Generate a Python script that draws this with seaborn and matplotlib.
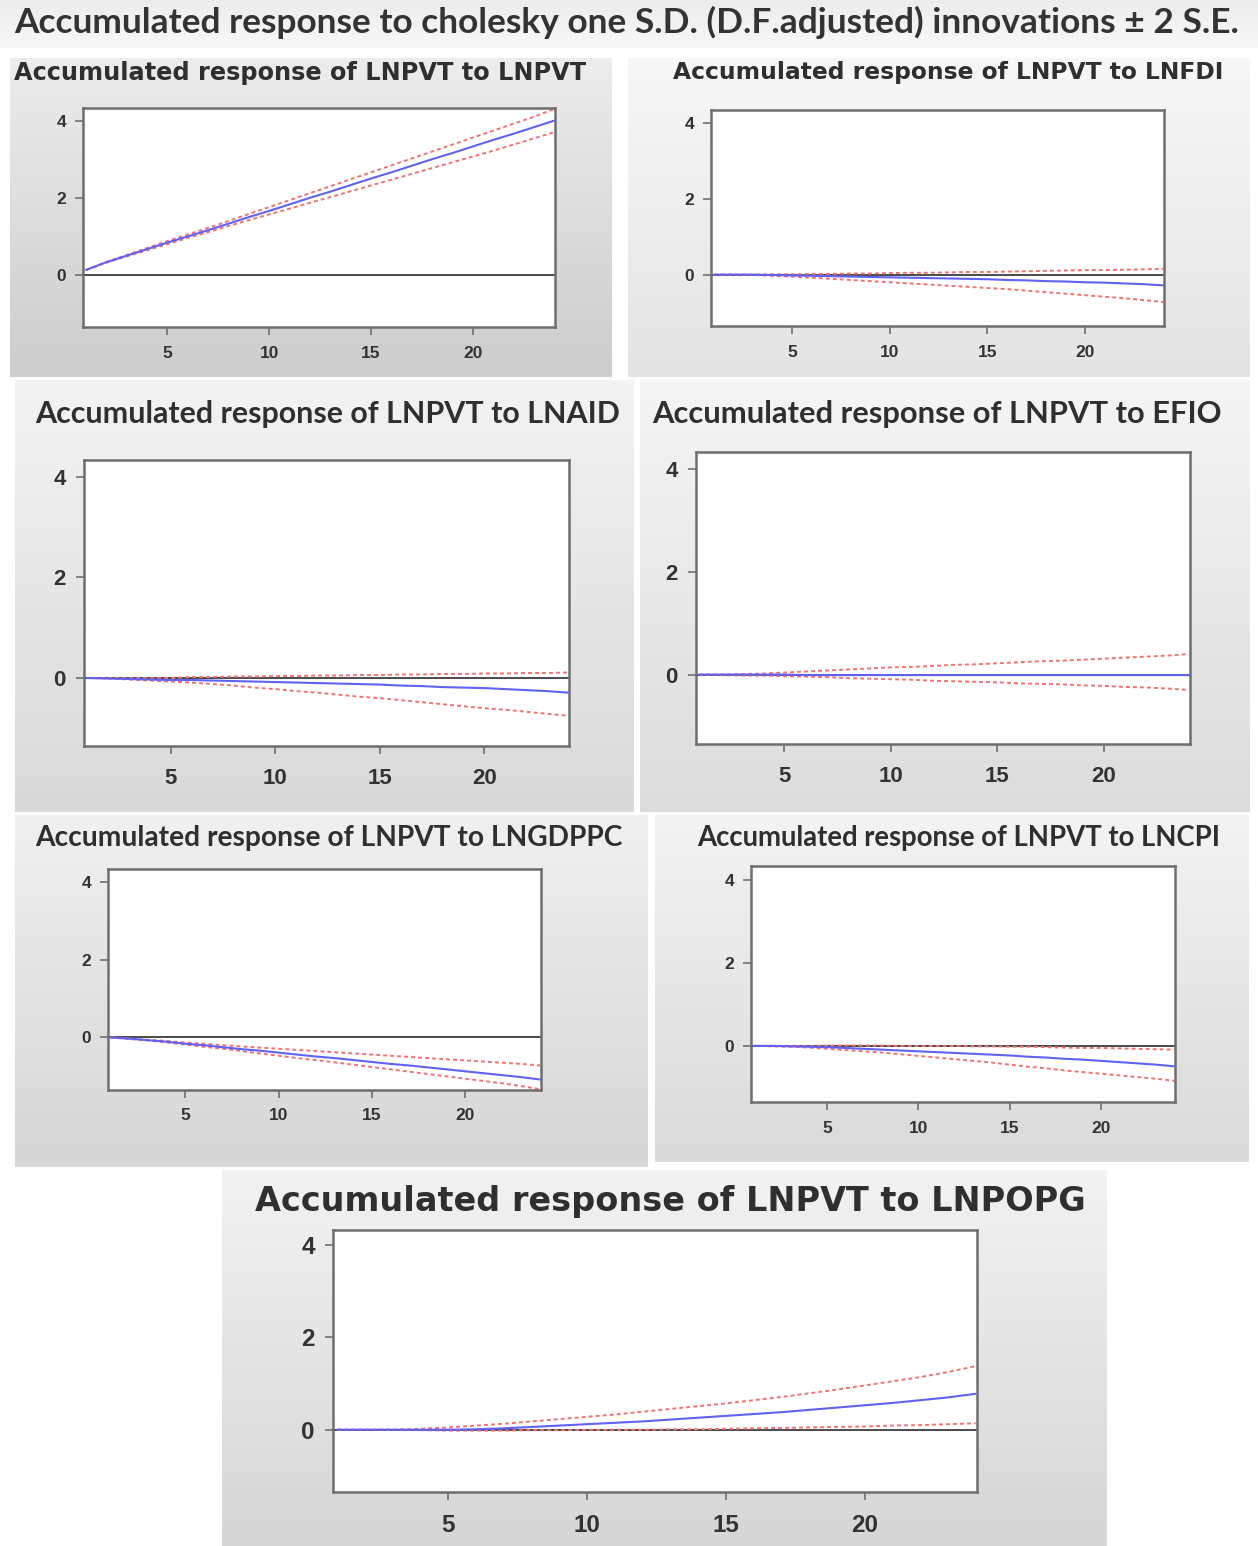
import numpy as np
import pandas as pd
import matplotlib
matplotlib.use("Agg")
import matplotlib.pyplot as plt
from matplotlib.colors import LinearSegmentedColormap
import seaborn as sns

sns.set_style("white")
plt.rcParams["font.family"] = ["DejaVu Sans"]

# ---------------- data ----------------
periods = list(range(1, 25))

main_title = "Accumulated response to cholesky one S.D. (D.F.adjusted) innovations \u00b1 2 S.E."

titles = [
    "Accumulated response of LNPVT to LNPVT",
    "Accumulated response of LNPVT to LNFDI",
    "Accumulated response of LNPVT to LNAID",
    "Accumulated response of LNPVT to EFIO",
    "Accumulated response of LNPVT to LNGDPPC",
    "Accumulated response of LNPVT to LNCPI",
    "Accumulated response of LNPVT to LNPOPG",
]

x_ticks = [5, 10, 15, 20]
y_ticks = [0, 2, 4]

lnpvt_mean = [0.13, 0.33, 0.50, 0.67, 0.84, 1.00, 1.16, 1.33, 1.50, 1.66, 1.83, 2.00,
              2.16, 2.33, 2.50, 2.66, 2.83, 3.00, 3.16, 3.33, 3.50, 3.66, 3.83, 4.00]
lnpvt_upper = [0.13, 0.34, 0.52, 0.70, 0.88, 1.05, 1.22, 1.40, 1.58, 1.76, 1.94, 2.12,
               2.30, 2.48, 2.66, 2.84, 3.02, 3.20, 3.38, 3.56, 3.74, 3.92, 4.10, 4.30]
lnpvt_lower = [0.13, 0.32, 0.48, 0.64, 0.80, 0.96, 1.11, 1.27, 1.42, 1.57, 1.72, 1.87,
               2.02, 2.17, 2.32, 2.47, 2.62, 2.77, 2.92, 3.07, 3.22, 3.38, 3.54, 3.70]

lnfdi_mean = [0, 0, 0, -0.01, -0.02, -0.03, -0.04, -0.05, -0.06, -0.07, -0.08, -0.09,
              -0.10, -0.11, -0.12, -0.14, -0.15, -0.17, -0.18, -0.20, -0.21, -0.23, -0.25, -0.28]
lnfdi_upper = [0, 0, 0, 0.01, 0.01, 0.02, 0.02, 0.03, 0.03, 0.04, 0.05, 0.05,
               0.06, 0.07, 0.07, 0.08, 0.09, 0.10, 0.11, 0.12, 0.12, 0.13, 0.14, 0.15]
lnfdi_lower = [0, 0, -0.01, -0.03, -0.05, -0.08, -0.11, -0.14, -0.17, -0.20, -0.23, -0.26,
               -0.29, -0.32, -0.35, -0.38, -0.42, -0.46, -0.50, -0.54, -0.58, -0.62, -0.67, -0.72]

lnaid_mean = [0, -0.01, -0.02, -0.03, -0.04, -0.04, -0.05, -0.06, -0.07, -0.08, -0.09, -0.10,
              -0.11, -0.12, -0.13, -0.15, -0.16, -0.18, -0.19, -0.20, -0.22, -0.24, -0.26, -0.29]
lnaid_upper = [0, 0, 0, 0, 0, 0.02, 0.02, 0.03, 0.03, 0.04, 0.04, 0.05,
               0.05, 0.06, 0.06, 0.07, 0.07, 0.08, 0.08, 0.09, 0.09, 0.10, 0.10, 0.11]
lnaid_lower = [0, -0.01, -0.03, -0.05, -0.07, -0.09, -0.12, -0.15, -0.19, -0.22, -0.26, -0.29,
               -0.33, -0.37, -0.40, -0.44, -0.48, -0.52, -0.56, -0.60, -0.63, -0.67, -0.71, -0.75]

efio_mean = [0, 0, 0, 0, 0, -0.01, -0.01, -0.01, -0.01, -0.01, -0.01, -0.01,
             -0.01, -0.01, -0.01, -0.01, -0.01, -0.01, -0.01, -0.01, -0.01, -0.01, -0.01, -0.01]
efio_upper = [0, 0, 0.01, 0.02, 0.04, 0.06, 0.08, 0.10, 0.12, 0.14, 0.15, 0.17,
              0.19, 0.20, 0.22, 0.24, 0.26, 0.27, 0.29, 0.31, 0.33, 0.35, 0.37, 0.40]
efio_lower = [0, -0.01, -0.02, -0.02, -0.03, -0.04, -0.05, -0.07, -0.08, -0.09, -0.10, -0.12,
              -0.13, -0.14, -0.15, -0.17, -0.18, -0.19, -0.21, -0.22, -0.24, -0.25, -0.27, -0.30]

lngdppc_mean = [0, -0.03, -0.07, -0.11, -0.16, -0.20, -0.25, -0.30, -0.34, -0.39, -0.44, -0.49,
                -0.53, -0.58, -0.63, -0.68, -0.72, -0.77, -0.82, -0.87, -0.92, -0.97, -1.02, -1.08]
lngdppc_upper = [0, -0.03, -0.06, -0.09, -0.13, -0.16, -0.20, -0.23, -0.26, -0.29, -0.32, -0.35,
                 -0.38, -0.41, -0.44, -0.47, -0.50, -0.53, -0.56, -0.59, -0.62, -0.65, -0.68, -0.72]
lngdppc_lower = [0, -0.04, -0.08, -0.13, -0.18, -0.24, -0.29, -0.35, -0.41, -0.47, -0.53, -0.58,
                 -0.64, -0.70, -0.76, -0.82, -0.88, -0.94, -1.00, -1.06, -1.12, -1.18, -1.25, -1.33]

lncpi_mean = [0, 0, -0.01, -0.02, -0.03, -0.05, -0.07, -0.09, -0.11, -0.13, -0.15, -0.17,
              -0.19, -0.21, -0.23, -0.26, -0.28, -0.31, -0.33, -0.36, -0.39, -0.42, -0.45, -0.49]
lncpi_upper = [0, 0, 0, 0, 0.01, 0.01, 0.01, 0.01, 0, 0, 0, 0,
               -0.01, -0.01, -0.02, -0.02, -0.03, -0.04, -0.05, -0.05, -0.06, -0.07, -0.08, -0.09]
lncpi_lower = [0, -0.01, -0.02, -0.04, -0.07, -0.10, -0.13, -0.16, -0.20, -0.24, -0.28, -0.32,
               -0.36, -0.40, -0.45, -0.50, -0.54, -0.59, -0.63, -0.67, -0.71, -0.75, -0.79, -0.84]

lnpopg_mean = [0, 0, 0, 0, 0, 0.01, 0.03, 0.06, 0.09, 0.12, 0.15, 0.18,
               0.22, 0.26, 0.30, 0.34, 0.38, 0.43, 0.48, 0.53, 0.58, 0.64, 0.70, 0.78]
lnpopg_upper = [0, 0, 0, 0.02, 0.05, 0.09, 0.13, 0.18, 0.23, 0.28, 0.33, 0.39,
                0.45, 0.51, 0.57, 0.64, 0.71, 0.79, 0.87, 0.96, 1.05, 1.14, 1.25, 1.38]
lnpopg_lower = [0, 0, 0, -0.01, -0.02, -0.02, -0.02, -0.01, -0.01, 0, 0, 0,
                0.01, 0.01, 0.02, 0.03, 0.04, 0.05, 0.06, 0.07, 0.09, 0.10, 0.12, 0.14]

series = [
    (lnpvt_mean, lnpvt_upper, lnpvt_lower),
    (lnfdi_mean, lnfdi_upper, lnfdi_lower),
    (lnaid_mean, lnaid_upper, lnaid_lower),
    (efio_mean, efio_upper, efio_lower),
    (lngdppc_mean, lngdppc_upper, lngdppc_lower),
    (lncpi_mean, lncpi_upper, lncpi_lower),
    (lnpopg_mean, lnpopg_upper, lnpopg_lower),
]

# ---------------- layout (pixels) ----------------
W, H = 1258, 1546
fig = plt.figure(figsize=(W / 100, H / 100), dpi=100)
fig.patch.set_facecolor("white")

def box(x0, y0, x1, y1):
    return [x0 / W, 1 - y1 / H, (x1 - x0) / W, (y1 - y0) / H]

def gradient_bg(x0, y0, x1, y1, top, bottom):
    a = fig.add_axes(box(x0, y0, x1, y1), zorder=0)
    cmap = LinearSegmentedColormap.from_list("g", [top, bottom])
    a.imshow(np.linspace(0, 1, 64).reshape(-1, 1), cmap=cmap, aspect="auto",
             extent=[0, 1, 0, 1], vmin=0, vmax=1)
    a.axis("off")

layout = [
    dict(bg=(10, 58, 612, 377), bgc=("#ececec", "#cdcdcd"), ax=(83, 108, 555, 327),
         t=(14, 588, 73), fam="DejaVu Sans", tfs=12.5, xpad=8, ypad=6),
    dict(bg=(628, 58, 1250, 377), bgc=("#f7f7f7", "#e4e4e4"), ax=(711, 110, 1164, 326),
         t=(673, 1224, 72), fam="DejaVu Sans", tfs=12.5, xpad=8, ypad=6),
    dict(bg=(15, 380, 634, 812), bgc=("#f3f3f3", "#d9d9d9"), ax=(84, 460, 569, 746),
         t=(35, 620, 414), fam="Lato", tfs=16, xpad=10, ypad=7),
    dict(bg=(640, 380, 1250, 812), bgc=("#f5f5f5", "#dcdcdc"), ax=(696, 452, 1190, 744),
         t=(652, 1222, 414), fam="Lato", tfs=16, xpad=10, ypad=7),
    dict(bg=(15, 815, 648, 1167), bgc=("#f0f0f0", "#d6d6d6"), ax=(108, 869, 541, 1090),
         t=(35, 622, 838), fam="Lato", tfs=12.5, xpad=7, ypad=6),
    dict(bg=(655, 815, 1248, 1162), bgc=("#f3f3f3", "#dadada"), ax=(751, 866, 1175, 1102),
         t=(697, 1222, 838), fam="Lato", tfs=12.5, xpad=8, ypad=6),
    dict(bg=(222, 1170, 1107, 1546), bgc=("#f2f2f2", "#d6d6d6"), ax=(333, 1230, 977, 1492),
         t=(255, 1087, 1201), fam="DejaVu Sans", tfs=17.5, xpad=10, ypad=7),
]

fig.canvas.draw()
renderer = fig.canvas.get_renderer()

def fit_text(xl, xr, y, s, family, weight="bold", color="#2f2f2f"):
    t = fig.text(xl / W, 1 - y / H, s, fontsize=10, family=family, weight=weight,
                 ha="left", va="center", color=color, zorder=5)
    bb = t.get_window_extent(renderer)
    t.set_fontsize(10 * (xr - xl) / bb.width)
    return t

# top title band
gradient_bg(0, 0, W, 48, "#ececec", "#f8f8f8")
fit_text(14, 1240, 22, main_title, "Lato", weight="bold", color="#333333")

blue = "#6161f2"
red = "#f07272"

for (mean, up, lo), title, L in zip(series, titles, layout):
    gradient_bg(*L["bg"], *L["bgc"])
    ax = fig.add_axes(box(*L["ax"]), zorder=2)
    ax.set_facecolor("white")
    df = pd.DataFrame({"period": periods, "response": mean, "upper": up, "lower": lo})
    ax.axhline(0, color="#4a4a4a", lw=1.4, zorder=1)
    sns.lineplot(data=df, x="period", y="upper", ax=ax, color=red, lw=1.4,
                 linestyle=(0, (2.0, 1.6)), zorder=2)
    sns.lineplot(data=df, x="period", y="lower", ax=ax, color=red, lw=1.4,
                 linestyle=(0, (2.0, 1.6)), zorder=2)
    sns.lineplot(data=df, x="period", y="response", ax=ax, color=blue, lw=1.5, zorder=3)
    ax.set_xlim(0.85, 24.05)
    ax.set_ylim(-1.35, 4.33)
    ax.set_xticks(x_ticks)
    ax.set_yticks(y_ticks)
    ax.set_xlabel("")
    ax.set_ylabel("")
    for sp in ax.spines.values():
        sp.set_color("#6e6e6e")
        sp.set_linewidth(1.8)
    ax.tick_params(axis="both", direction="out", length=6, width=1.1, color="#666666",
                   labelsize=L["tfs"], labelcolor="#333333")
    ax.tick_params(axis="x", pad=L["xpad"])
    ax.tick_params(axis="y", pad=L["ypad"])
    ax.tick_params(bottom=True, left=True, top=False, right=False)
    for lab in ax.get_xticklabels() + ax.get_yticklabels():
        lab.set_family("Liberation Sans")
        lab.set_weight("bold")
    fit_text(L["t"][0], L["t"][1], L["t"][2], title, L["fam"])

fig.savefig("out.png", dpi=100)
